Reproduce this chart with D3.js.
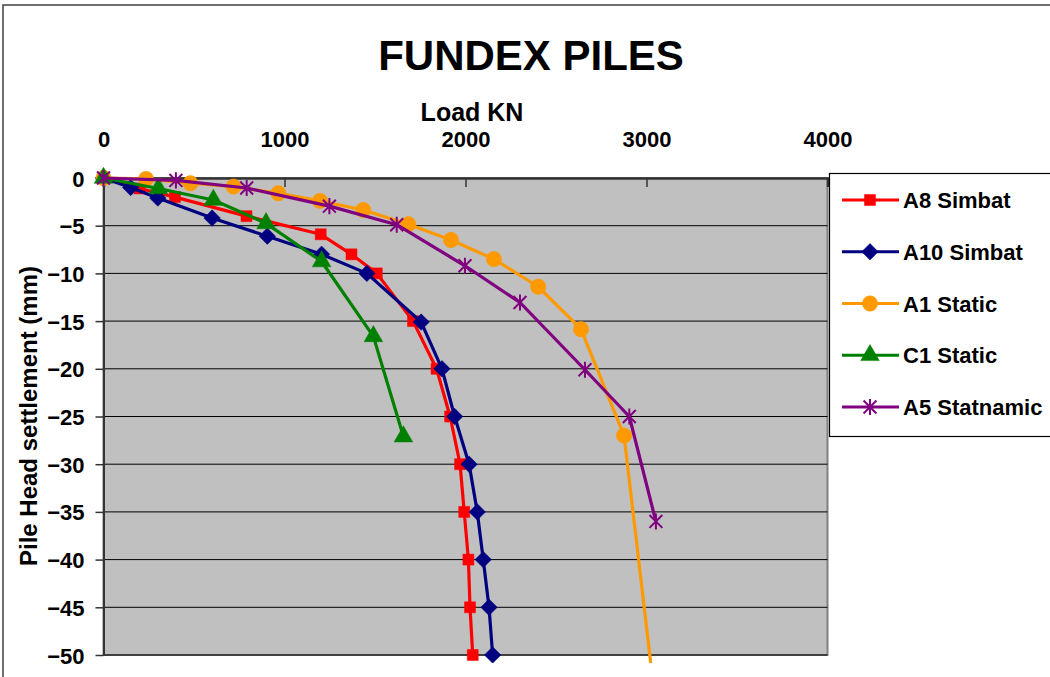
<!DOCTYPE html>
<html>
<head>
<meta charset="utf-8">
<script src="https://cdn.jsdelivr.net/npm/d3@7"></script>
<style>
  body { margin: 0; background: #fff; }
  text { font-family: "Liberation Sans", Arial, sans-serif; font-weight: bold; fill: #000; }
</style>
</head>
<body>
<script>
  // load (KN) and settlement (mm)
  const a8Load   = [0, 200, 395, 790, 1200, 1370, 1510, 1710, 1840, 1915, 1970, 1993, 2016, 2025, 2040];
  const a8Settle = [0, -1.1, -2, -4, -5.9, -8, -10, -15, -20, -25, -30, -35, -40, -45, -50];

  const a10Load   = [0, 150, 300, 600, 905, 1205, 1455, 1755, 1870, 1940, 2020, 2065, 2098, 2130, 2150];
  const a10Settle = [0, -1, -2.1, -4.2, -6.1, -8, -10, -15.1, -20, -25, -30, -35, -40, -45, -50];

  const a1Load   = [0, 235, 480, 718, 966, 1196, 1435, 1684, 1920, 2157, 2402, 2638, 2876, 3080];
  const a1Settle = [0, -0.1, -0.55, -0.9, -1.6, -2.4, -3.35, -4.85, -6.5, -8.5, -11.4, -15.85, -27, -60];

  const c1Load   = [0, 303, 607, 898, 1205, 1491, 1657];
  const c1Settle = [0, -1.1, -2.3, -4.75, -8.75, -16.6, -27.1];

  const a5Load   = [0, 400, 791, 1248, 1620, 1997, 2301, 2660, 2905, 3052];
  const a5Settle = [0, -0.25, -1.05, -2.95, -4.9, -9.2, -13.05, -20.1, -25, -36];

  const seriesNames = ["A8 Simbat", "A10  Simbat", "A1 Static", "C1 Static", "A5 Statnamic"];
  const xTicks = [0, 1000, 2000, 3000, 4000];
  const yTicks = [0, -5, -10, -15, -20, -25, -30, -35, -40, -45, -50];

  const series = [
    { name: seriesNames[0], x: a8Load,  y: a8Settle,  color: "#FF0000", shape: "square" },
    { name: seriesNames[1], x: a10Load, y: a10Settle, color: "#000080", shape: "diamond" },
    { name: seriesNames[2], x: a1Load,  y: a1Settle,  color: "#FF9900", shape: "circle" },
    { name: seriesNames[3], x: c1Load,  y: c1Settle,  color: "#008000", shape: "triangle" },
    { name: seriesNames[4], x: a5Load,  y: a5Settle,  color: "#800080", shape: "star" }
  ];

  const W = 1050, H = 677;
  const pLeft = 103.5, pRight = 827.5, pTop = 178, pBottom = 655;

  const x = d3.scaleLinear().domain([0, 4000]).range([pLeft, pRight]);
  const y = d3.scaleLinear().domain([0, -50]).range([pTop, pBottom]);

  const svg = d3.select("body").append("svg")
    .attr("width", W).attr("height", H);

  // outer chart border
  svg.append("rect")
    .attr("x", 3).attr("y", 5).attr("width", W + 10).attr("height", H + 10)
    .attr("fill", "#fff").attr("stroke", "#404040").attr("stroke-width", 1.5);

  svg.append("text")
    .attr("x", 531).attr("y", 70)
    .attr("text-anchor", "middle").attr("font-size", 42)
    .text("FUNDEX PILES");

  svg.append("text")
    .attr("x", 472).attr("y", 121)
    .attr("text-anchor", "middle").attr("font-size", 25)
    .text("Load KN");

  svg.append("text")
    .attr("transform", "translate(37,416) rotate(-90)")
    .attr("text-anchor", "middle").attr("font-size", 24)
    .text("Pile Head settlement (mm)");

  // plot area
  svg.append("rect")
    .attr("x", pLeft).attr("y", pTop)
    .attr("width", pRight - pLeft).attr("height", pBottom - pTop)
    .attr("fill", "#C0C0C0").attr("stroke", "#808080").attr("stroke-width", 2);

  svg.append("g")
    .selectAll("line")
    .data(yTicks.slice(1))
    .join("line")
    .attr("x1", pLeft).attr("x2", pRight)
    .attr("y1", d => y(d)).attr("y2", d => y(d))
    .attr("stroke", "#000").attr("stroke-width", 1);

  // x axis on top, ticks pointing into the plot
  const xAxis = svg.append("g")
    .attr("transform", `translate(0,${pTop})`)
    .call(d3.axisTop(x).tickValues(xTicks).tickSize(-9).tickFormat(d3.format("d")));
  xAxis.select(".domain").attr("stroke", "#333").attr("stroke-width", 2.5);
  xAxis.selectAll(".tick line").attr("stroke", "#333").attr("stroke-width", 1.5);
  xAxis.selectAll("text").attr("font-size", 22).attr("font-family", null).attr("fill", "#000")
    .attr("y", -31).attr("dy", 0);

  const yAxis = svg.append("g")
    .attr("transform", `translate(${pLeft},0)`)
    .call(d3.axisLeft(y).tickValues(yTicks).tickSize(8).tickSizeOuter(0));
  yAxis.select(".domain").attr("stroke", "#333").attr("stroke-width", 2);
  yAxis.selectAll(".tick line").attr("stroke", "#333").attr("stroke-width", 1.5);
  yAxis.selectAll("text").attr("font-size", 22).attr("font-family", null).attr("fill", "#000")
    .attr("dy", 8).attr("x", -19);

  svg.append("clipPath").attr("id", "clip")
    .append("rect").attr("x", 0).attr("y", 0).attr("width", W).attr("height", 663);

  // excel style star: vertical bar plus an X
  const starType = {
    draw(ctx, size) {
      const r = Math.sqrt(size) / 2;
      ctx.moveTo(0, -r); ctx.lineTo(0, r);
      ctx.moveTo(-r * 0.8, -r * 0.8); ctx.lineTo(r * 0.8, r * 0.8);
      ctx.moveTo(-r * 0.8, r * 0.8); ctx.lineTo(r * 0.8, -r * 0.8);
    }
  };

  const symbols = {
    square:   d3.symbol().type(d3.symbolSquare).size(121),
    diamond:  d3.symbol().type(d3.symbolSquare).size(135),
    circle:   d3.symbol().type(d3.symbolCircle).size(185),
    triangle: d3.symbol().type(d3.symbolTriangle).size(150),
    star:     d3.symbol().type(starType).size(260)
  };
  const rot = { diamond: " rotate(45)" };

  function marker(g, s) {
    g.attr("d", symbols[s.shape]())
      .attr("fill", s.shape === "star" ? "none" : s.color)
      .attr("stroke", s.color)
      .attr("stroke-width", s.shape === "star" ? 2 : 0.5);
  }

  const plot = svg.append("g").attr("clip-path", "url(#clip)");
  const line = d3.line().x(d => x(d[0])).y(d => y(d[1]));

  series.forEach(s => {
    const pts = s.x.map((v, i) => [v, s.y[i]]);
    const g = plot.append("g");
    g.append("path")
      .attr("d", line(pts))
      .attr("fill", "none").attr("stroke", s.color)
      .attr("stroke-width", 3.2).attr("stroke-linejoin", "round");
    g.selectAll("path.m")
      .data(pts)
      .join("path")
      .attr("class", "m")
      .attr("transform", d => `translate(${x(d[0])},${y(d[1])})` + (rot[s.shape] || ""))
      .call(marker, s);
  });

  // legend
  const lg = svg.append("g");
  lg.append("rect")
    .attr("x", 829.5).attr("y", 173.5).attr("width", 240).attr("height", 263)
    .attr("fill", "#fff").attr("stroke", "#000").attr("stroke-width", 1.2);

  const ly = d3.scalePoint().domain(seriesNames).range([200, 407]);
  series.forEach(s => {
    const cy = ly(s.name);
    lg.append("line")
      .attr("x1", 842).attr("x2", 899).attr("y1", cy).attr("y2", cy)
      .attr("stroke", s.color).attr("stroke-width", 3);
    lg.append("path")
      .attr("transform", `translate(870,${cy})` + (rot[s.shape] || ""))
      .call(marker, s);
    lg.append("text")
      .attr("x", 903).attr("y", cy + 8)
      .attr("font-size", 22)
      .text(s.name);
  });
</script>
</body>
</html>
